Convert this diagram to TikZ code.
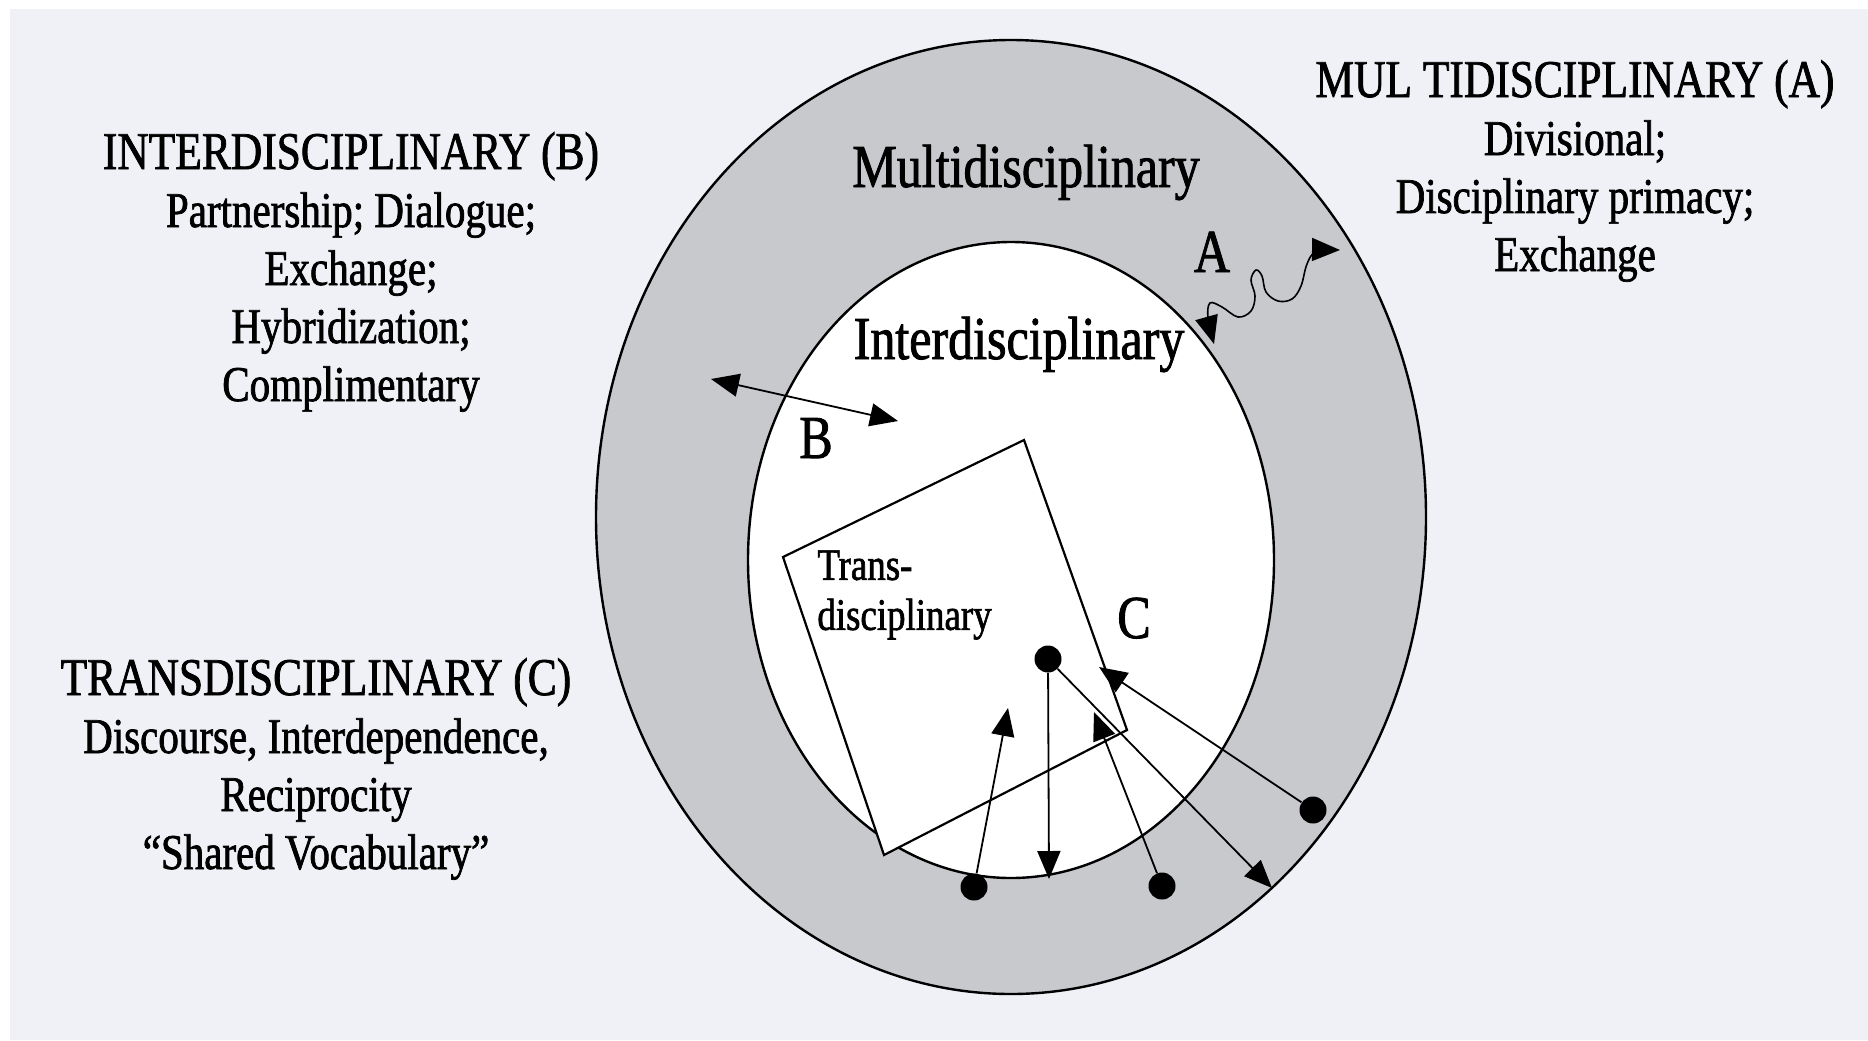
\documentclass[tikz,border=0pt]{standalone}
\usepackage{fontspec}
\setmainfont[FakeStretch=0.82, FakeBold=1.4]{Liberation Serif}
\usetikzlibrary{arrows.meta}

\definecolor{bggray}{RGB}{240,241,246}
\definecolor{ringgray}{RGB}{200,201,205}
\newcommand{\blocktitle}{\fontsize{26.5}{29}\selectfont}

\begin{document}
\begin{tikzpicture}[x=0.5pt, y=-0.5pt,
  >={Triangle[length=14pt,width=11.5pt]},
  every node/.style={inner sep=0pt},
  heading/.style={align=center, font={\fontsize{25}{29}\selectfont}},
  ringlabel/.style={anchor=base, font={\fontsize{30.5}{34}\selectfont}},
  dot/.style={circle, fill=black, minimum size=13.5pt},
  link/.style={->, line width=0.9pt}]

% page and background
\fill[white] (0,0) rectangle (1868,1040);
\fill[bggray] (10,9) rectangle (1868,1040);
\useasboundingbox (0,0) rectangle (1868,1040);

% rings
\draw[line width=1.2pt, fill=ringgray] (1011,517) ellipse [x radius=415, y radius=477];
\draw[line width=1.2pt, fill=white] (1011,560) ellipse [x radius=263, y radius=318];

% trans-disciplinary square
\draw[line width=1.1pt, fill=white] (1024,440) -- (783,557) -- (884,855) -- (1127,730) -- cycle;

\node[ringlabel] (multi) at (1026,187) {Multidisciplinary};
\node[ringlabel] (inter) at (1019,359) {Interdisciplinary};
\node[anchor=north west, align=left, font={\fontsize{22.5}{25}\selectfont}] (trans) at (817,550) {Trans-\\disciplinary};

\node[ringlabel] (la) at (1212,272) {A};
\node[ringlabel] (lb) at (816,458) {B};
\node[ringlabel] (lc) at (1134,638) {C};

% A: wavy exchange
\coordinate (alow) at (1214,344);
\coordinate (ahigh) at (1340,250);
\draw[<->, line width=0.8pt] plot[smooth, tension=0.6] coordinates {(alow) (1208,318) (1210,303) (1222,307) (1238,317) (1251,311) (1255,296) (1251,280) (1256,270) (1262,276) (1266,292) (1278,301) (1292,299) (1301,286) (1307,264) (1316,252) (ahigh)};

% B: two-way
\coordinate (bl) at (711,379);
\coordinate (br) at (898,421);
\draw[<->, line width=0.9pt] (bl) -- (br);

% C: dots and arrows
\node[dot] (hub) at (1048,659) {};
\node[dot] (dotbl) at (974,887) {};
\node[dot] (dotbr) at (1162,886) {};
\node[dot] (dotr) at (1313,810) {};
\coordinate (tipdown) at (1049,879);
\coordinate (tipbl) at (1008,708);
\coordinate (tipbr) at (1094,712);
\coordinate (tipout) at (1272,888);
\coordinate (tipr) at (1099,667);
\draw[link] (hub) -- (tipdown);
\draw[link] (dotbl) -- (tipbl);
\draw[link] (dotbr) -- (tipbr);
\draw[link] (hub) -- (tipout);
\draw[link] (dotr) -- (tipr);

% side texts
\node[heading] (binfo) at (351,272) {{\blocktitle INTERDISCIPLINARY (B)}\\Partnership; Dialogue;\\Exchange;\\Hybridization;\\Complimentary};
\node[heading] (ainfo) at (1575,171) {{\blocktitle MUL TIDISCIPLINARY (A)}\\Divisional;\\Disciplinary primacy;\\Exchange};
\node[heading] (cinfo) at (316,769) {{\blocktitle TRANSDISCIPLINARY (C)}\\Discourse, Interdependence,\\Reciprocity\\“Shared Vocabulary”};

\end{tikzpicture}
\end{document}
